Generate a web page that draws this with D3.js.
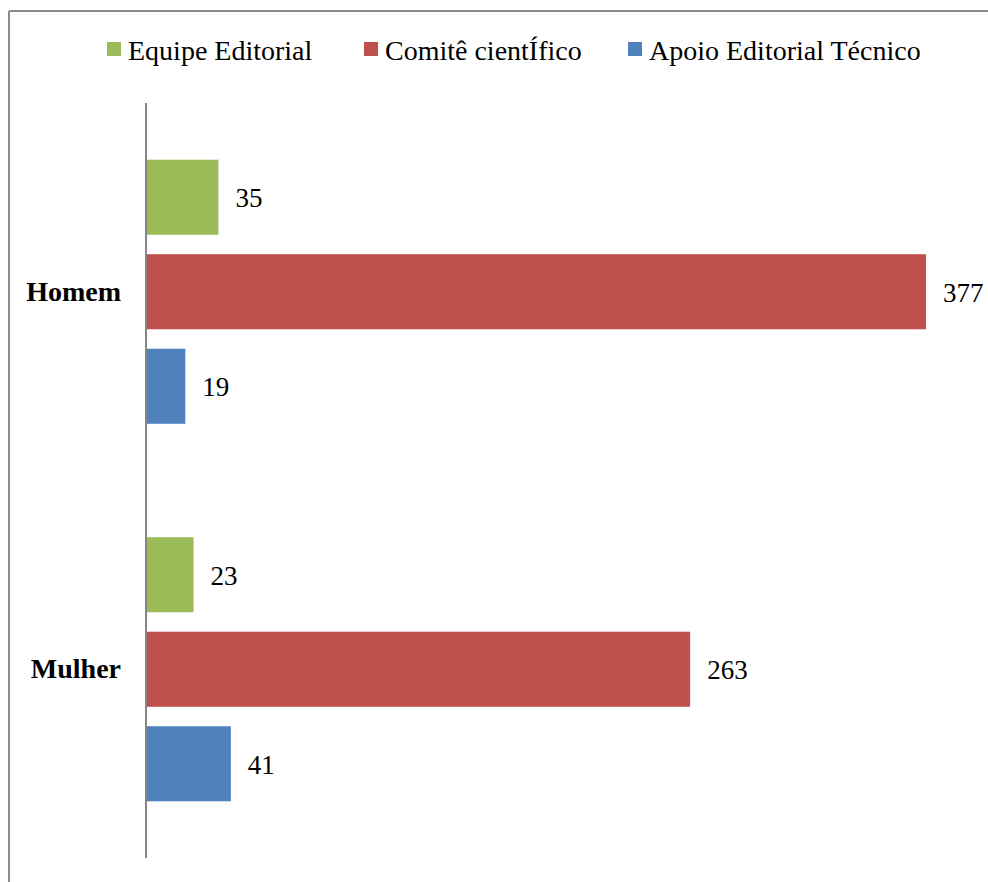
<!DOCTYPE html>
<html>
<head>
<meta charset="utf-8">
<script src="https://cdn.jsdelivr.net/npm/d3@7"></script>
<style>
  body { margin: 0; background: #fff; }
  svg { display: block; }
  text { font-family: "Liberation Serif", "Times New Roman", serif; }
</style>
</head>
<body>
<svg></svg>
<script>
var groups = ["Homem", "Mulher"];
var series = ["Equipe Editorial", "Comitê cientÍfico", "Apoio Editorial Técnico"];
var equipe = [35, 23];
var comite = [377, 263];
var apoio = [19, 41];
var colors = ["#9bbb59", "#c0504d", "#4f81bd"];

var values = [equipe, comite, apoio];

var w = 988,
    h = 882;

var svg = d3.select("svg")
    .attr("width", w)
    .attr("height", h);

// frame (only top and left edges are visible)
svg.append("line")
    .attr("x1", 9).attr("y1", 11).attr("x2", w).attr("y2", 11)
    .attr("stroke", "#8c8c8c").attr("stroke-width", 2);
svg.append("line")
    .attr("x1", 9).attr("y1", 11).attr("x2", 9).attr("y2", h)
    .attr("stroke", "#8c8c8c").attr("stroke-width", 2);

var x = d3.scaleLinear()
    .domain([0, 377])
    .range([146, 926]);

var y0 = d3.scaleBand()
    .domain(groups)
    .range([103, 858]);

var y1 = d3.scaleBand()
    .domain(series)
    .range([0, y0.bandwidth()])
    .paddingInner(0.206)
    .paddingOuter(0.6);

var rows = [];
groups.forEach(function(g, gi) {
    series.forEach(function(s, si) {
        rows.push({ group: g, name: s, value: values[si][gi], color: colors[si] });
    });
});

var gEl = svg.selectAll("g.bar")
    .data(rows)
    .join("g")
    .attr("class", "bar")
    .attr("transform", function(d) {
        return "translate(0," + (y0(d.group) + y1(d.name)) + ")";
    });

gEl.append("rect")
    .attr("x", x(0))
    .attr("y", 0)
    .attr("width", function(d) { return x(d.value) - x(0); })
    .attr("height", y1.bandwidth())
    .attr("fill", function(d) { return d.color; });

gEl.append("text")
    .attr("x", function(d) { return x(d.value) + 17; })
    .attr("y", y1.bandwidth() / 2 + 10)
    .attr("font-size", 27)
    .attr("fill", "#000")
    .text(function(d) { return d.value; });

// vertical axis
svg.append("line")
    .attr("x1", x(0)).attr("x2", x(0))
    .attr("y1", 103).attr("y2", 858)
    .attr("stroke", "#868686").attr("stroke-width", 2);

svg.selectAll("text.cat")
    .data(groups)
    .join("text")
    .attr("class", "cat")
    .attr("x", x(0) - 25)
    .attr("y", function(d) { return y0(d) + y0.bandwidth() / 2 + 9; })
    .attr("text-anchor", "end")
    .attr("font-size", 28)
    .attr("font-weight", "bold")
    .text(function(d) { return d; });

// legend
var legendX = [107, 364, 628];
var leg = svg.selectAll("g.legend")
    .data(series)
    .join("g")
    .attr("class", "legend")
    .attr("transform", function(d, i) { return "translate(" + legendX[i] + ",42)"; });

leg.append("rect")
    .attr("width", 14)
    .attr("height", 14)
    .attr("fill", function(d, i) { return colors[i]; });

leg.append("text")
    .attr("x", 21)
    .attr("y", 18)
    .attr("font-size", 28)
    .text(function(d) { return d; });
</script>
</body>
</html>
